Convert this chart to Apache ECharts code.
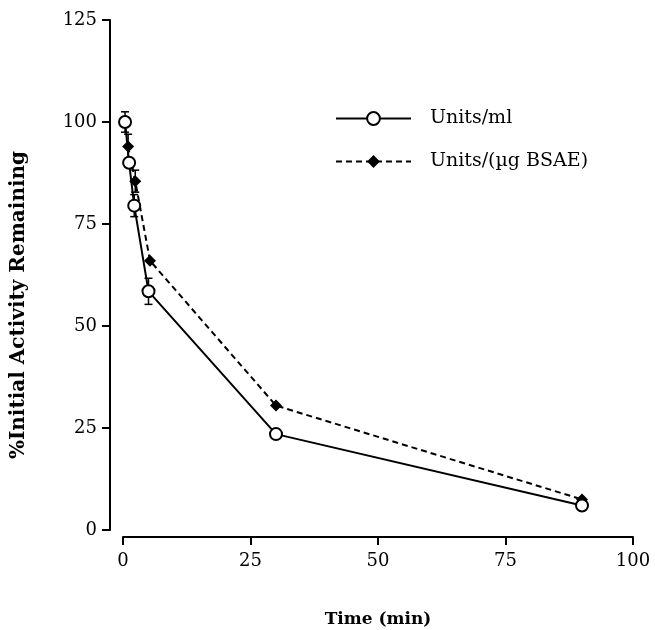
<!DOCTYPE html>
<html>
<head>
<meta charset="utf-8">
<script src="https://cdn.jsdelivr.net/npm/echarts@6/dist/echarts.min.js"></script>
<style>html,body{margin:0;padding:0;background:#fff}#c{width:655px;height:630px}</style>
</head>
<body>
<div id="c"></div>
<script>
const mlTime = [0.4, 1.2, 2.2, 5, 30, 90];
const mlValue = [100, 90, 79.5, 58.5, 23.5, 6];
const mlErr = [2.5, 0, 2.7, 3.2, 0, 0];
const bsaeTime = [1, 2.4, 5.3, 30, 90];
const bsaeValue = [94, 85.5, 66, 30.5, 7.5];
const bsaeErr = [3, 2.7, 0, 0, 0];
const xTicks = [0, 25, 50, 75, 100];
const yTicks = [0, 25, 50, 75, 100, 125];
const seriesNames = ['Units/ml', 'Units/(\u00b5g BSAE)'];
const yTitle = '%Initial Activity Remaining';
const xTitle = 'Time (min)';

const serif = '"DejaVu Serif", "Liberation Serif", serif';

function errData(t, v, e) {
  const out = [];
  for (let i = 0; i < t.length; i++) if (e[i] > 0) out.push([t[i], v[i] - e[i], v[i] + e[i]]);
  return out;
}

function renderErr(params, api) {
  const x = api.value(0);
  const lo = api.coord([x, api.value(1)]);
  const hi = api.coord([x, api.value(2)]);
  const w = 4;
  const st = { stroke: '#000', lineWidth: 1.5 };
  return {
    type: 'group',
    children: [
      { type: 'line', shape: { x1: lo[0], y1: lo[1], x2: hi[0], y2: hi[1] }, style: st },
      { type: 'line', shape: { x1: lo[0] - w, y1: lo[1], x2: lo[0] + w, y2: lo[1] }, style: st },
      { type: 'line', shape: { x1: hi[0] - w, y1: hi[1], x2: hi[0] + w, y2: hi[1] }, style: st }
    ]
  };
}

const chart = echarts.init(document.getElementById('c'));
chart.setOption({
  animation: false,
  backgroundColor: '#fff',
  grid: { left: 123, right: 22, top: 20, bottom: 100, containLabel: false, outerBoundsMode: 'none' },
  graphic: [{
    type: 'text',
    x: 19, y: 305,
    rotation: Math.PI / 2,
    style: {
      text: yTitle, fontFamily: serif, fontSize: 20, fontWeight: 'bold', fill: '#000',
      align: 'center', verticalAlign: 'middle'
    }
  }],
  legend: {
    orient: 'vertical',
    left: 330,
    top: 104,
    itemWidth: 75,
    itemHeight: 16,
    itemGap: 24,
    data: seriesNames,
    textStyle: { fontFamily: serif, fontSize: 19, color: '#000', padding: [0, 0, 0, 14] }
  },
  xAxis: {
    type: 'value',
    min: 0, max: 100, interval: 25,
    offset: 7,
    axisLine: { onZero: false, lineStyle: { color: '#000', width: 2 } },
    axisTick: { show: true, length: 8, lineStyle: { color: '#000', width: 2 } },
    axisLabel: { fontFamily: serif, fontSize: 18, color: '#000', margin: 15,
      formatter: v => xTicks.includes(v) ? String(v) : '' },
    splitLine: { show: false },
    name: xTitle,
    nameLocation: 'middle',
    nameGap: 74,
    nameTextStyle: { fontFamily: serif, fontSize: 17, fontWeight: 'bold', color: '#000' }
  },
  yAxis: {
    type: 'value',
    min: 0, max: 125, interval: 25,
    offset: 13,
    axisLine: { show: true, onZero: false, lineStyle: { color: '#000', width: 2 } },
    axisTick: { show: true, length: 8, lineStyle: { color: '#000', width: 2 } },
    axisLabel: { fontFamily: serif, fontSize: 18, color: '#000', margin: 13,
      formatter: v => yTicks.includes(v) ? String(v) : '' },
    splitLine: { show: false }
  },
  series: [
    {
      name: 'err1', type: 'custom', renderItem: renderErr,
      data: errData(mlTime, mlValue, mlErr), z: 1, silent: true
    },
    {
      name: 'err2', type: 'custom', renderItem: renderErr,
      data: errData(bsaeTime, bsaeValue, bsaeErr), z: 1, silent: true
    },
    {
      name: seriesNames[1], type: 'line',
      data: bsaeTime.map((t, i) => [t, bsaeValue[i]]),
      symbol: 'diamond', symbolSize: 12,
      lineStyle: { color: '#000', width: 2, type: [6, 4] },
      itemStyle: { color: '#000', borderColor: '#000', borderWidth: 0 },
      z: 2
    },
    {
      name: seriesNames[0], type: 'line',
      data: mlTime.map((t, i) => [t, mlValue[i]]),
      symbol: 'circle', symbolSize: 12,
      lineStyle: { color: '#000', width: 2 },
      itemStyle: { color: '#fff', borderColor: '#000', borderWidth: 2 },
      z: 3
    }
  ]
});
</script>
</body>
</html>
